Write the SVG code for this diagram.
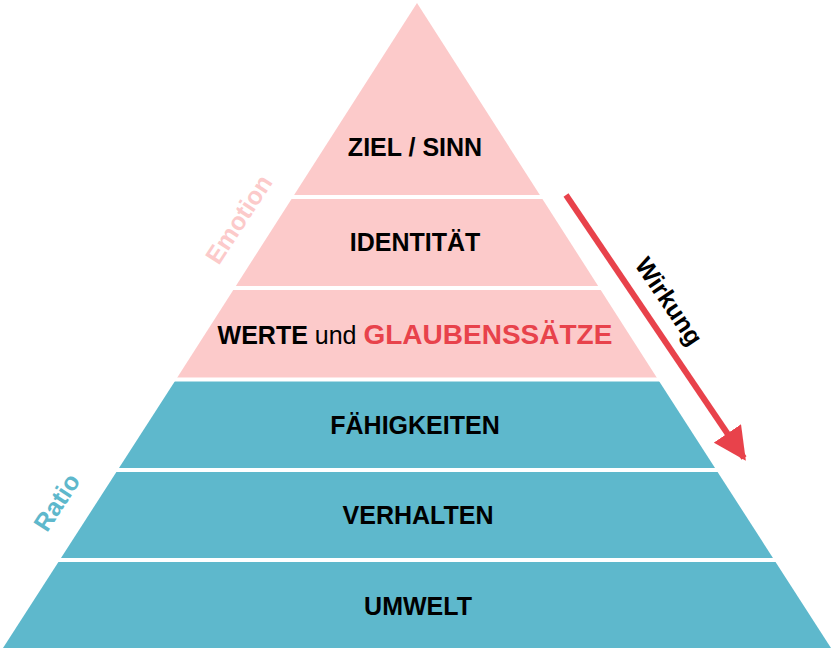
<svg xmlns="http://www.w3.org/2000/svg" width="834" height="651" viewBox="0 0 834 651">
<style>
.t{font-family:"Liberation Sans",Arial,sans-serif;font-weight:bold;font-size:25px;fill:#000;text-anchor:middle}
.sep{stroke:#fff;stroke-width:4}
</style>
<defs><marker id="ah" viewBox="0 0 10 10" refX="9" refY="5" markerWidth="5.5" markerHeight="5.5" orient="auto"><path d="M0,0L10,5L0,10z" fill="#e8424b"/></marker></defs>
<rect width="834" height="651" fill="#fff"/>
<g id="nodes">
<g id="pink"><polygon points="417,3 658,379.5 176,379.5" fill="#fccaca"/></g>
<g id="teal"><polygon points="176,379.5 658,379.5 831,648 3,648" fill="#5eb8cc"/></g>
<g id="seps">
<line class="sep" x1="250" y1="197" x2="590" y2="197"/>
<line class="sep" x1="180" y1="288" x2="660" y2="288"/>
<line class="sep" x1="120" y1="379.5" x2="720" y2="379.5"/>
<line class="sep" x1="60" y1="470" x2="780" y2="470"/>
<line class="sep" x1="0" y1="560" x2="834" y2="560"/>
</g>
<g id="n1"><text class="t" x="415" y="156">ZIEL / SINN</text></g>
<g id="n2"><text class="t" x="415" y="251">IDENTITÄT</text></g>
<g id="n3"><text class="t" x="415" y="344">WERTE <tspan font-weight="normal">und</tspan> <tspan fill="#e8424b" font-size="28">GLAUBENSSÄTZE</tspan></text></g>
<g id="n4"><text class="t" x="415" y="434">FÄHIGKEITEN</text></g>
<g id="n5"><text class="t" x="418" y="524">VERHALTEN</text></g>
<g id="n6"><text class="t" x="418" y="615">UMWELT</text></g>
<g id="emotion"><text class="t" style="fill:#fccaca" transform="translate(246,224) rotate(-57)">Emotion</text></g>
<g id="ratio"><text class="t" style="fill:#5eb8cc" transform="translate(64,507) rotate(-57)">Ratio</text></g>
</g>
<g id="connectors">
<line x1="566" y1="195" x2="744" y2="458" stroke="#e8424b" stroke-width="6" marker-end="url(#ah)"/>
<text class="t" transform="translate(662,306) rotate(56)">Wirkung</text>
</g>
</svg>
